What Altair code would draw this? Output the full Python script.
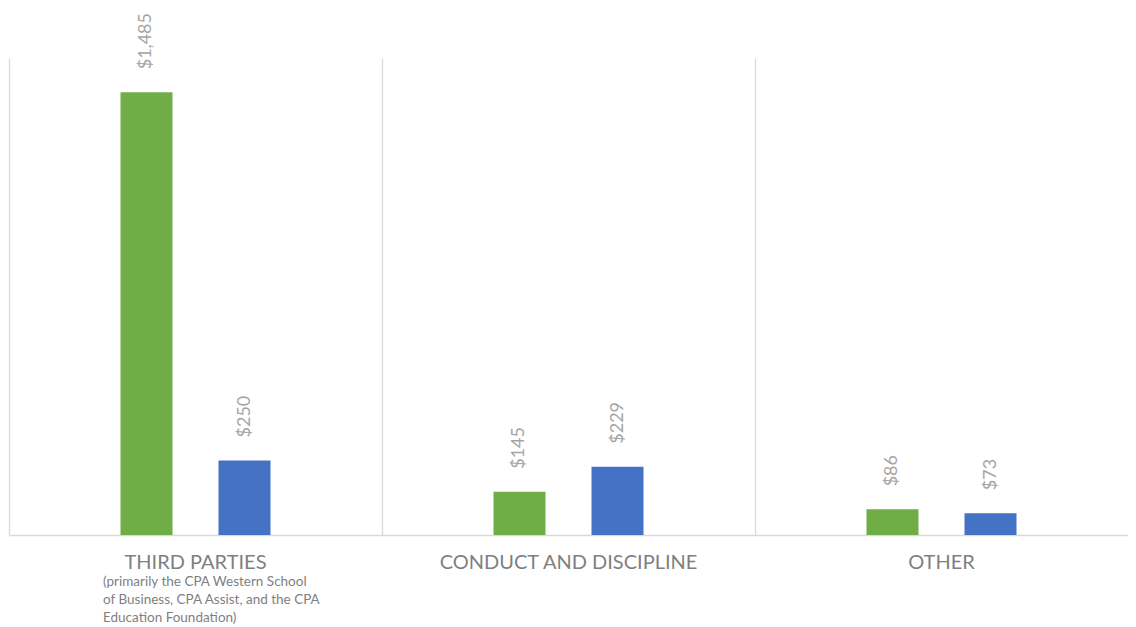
import altair as alt
import pandas as pd

categories = ["THIRD PARTIES", "CONDUCT AND DISCIPLINE", "OTHER"]
series = ["Series 1", "Series 2"]
values_s1 = [1485, 145, 86]
values_s2 = [250, 229, 73]
subtitle_cat = ["THIRD PARTIES"]
subtitle_text = ["(primarily the CPA Western School\nof Business, CPA Assist, and the CPA\nEducation Foundation)"]
colors = ["#70ad47", "#4472c4"]

rows = []
for c, a, b in zip(categories, values_s1, values_s2):
    rows.append({"cat": c, "series": series[0], "value": a})
    rows.append({"cat": c, "series": series[1], "value": b})
df = pd.DataFrame(rows)
sub_df = pd.DataFrame({"cat": subtitle_cat, "text": subtitle_text})

FONT = "Lato"

xenc = alt.X("cat:N", sort=categories,
             scale=alt.Scale(paddingInner=0, paddingOuter=0),
             axis=alt.Axis(title=None, ticks=False, labelAngle=0, labelFontSize=20,
                           labelColor="#7f7f7f", labelFont=FONT, labelPadding=17,
                           labelLimit=0,
                           domainColor="#d9d9d9", domainWidth=1.3,
                           grid=True, gridColor="#d9d9d9", gridWidth=1.3,
                           bandPosition=0))
xoff = alt.XOffset("series:N", sort=series,
                   scale=alt.Scale(paddingInner=0.194, paddingOuter=1))
yenc = alt.Y("value:Q", scale=alt.Scale(domain=[0, 1600], nice=False), axis=None)

base = alt.Chart(df)
bars = base.mark_bar(width=52).encode(
    x=xenc, xOffset=xoff, y=yenc,
    color=alt.Color("series:N", sort=series,
                    scale=alt.Scale(domain=series, range=colors), legend=None),
)
labels = base.mark_text(angle=270, align="left", baseline="middle", dx=23,
                        fontSize=18, font=FONT, color="#a5a5a5").encode(
    x=alt.X("cat:N", sort=categories), xOffset=alt.XOffset("series:N", sort=series),
    y="value:Q",
    text=alt.Text("value:Q", format="$,.0f"),
)
sub = alt.Chart(sub_df).mark_text(align="left", baseline="top", dx=94, lineBreak="\n",
                                  lineHeight=18, fontSize=13.5, font=FONT,
                                  color="#7f7f7f").encode(
    x=alt.X("cat:N", sort=categories, bandPosition=0),
    y=alt.value(517),
    text="text:N",
)

chart = alt.layer(bars, labels, sub).properties(
    width=1119, height=477,
    autosize=alt.AutoSizeParams(type="none"),
    padding={"left": 1, "top": 50, "right": 0, "bottom": 92},
).configure_view(stroke=None)

chart.save("out.html", embed_options={"renderer": "svg", "actions": False})
